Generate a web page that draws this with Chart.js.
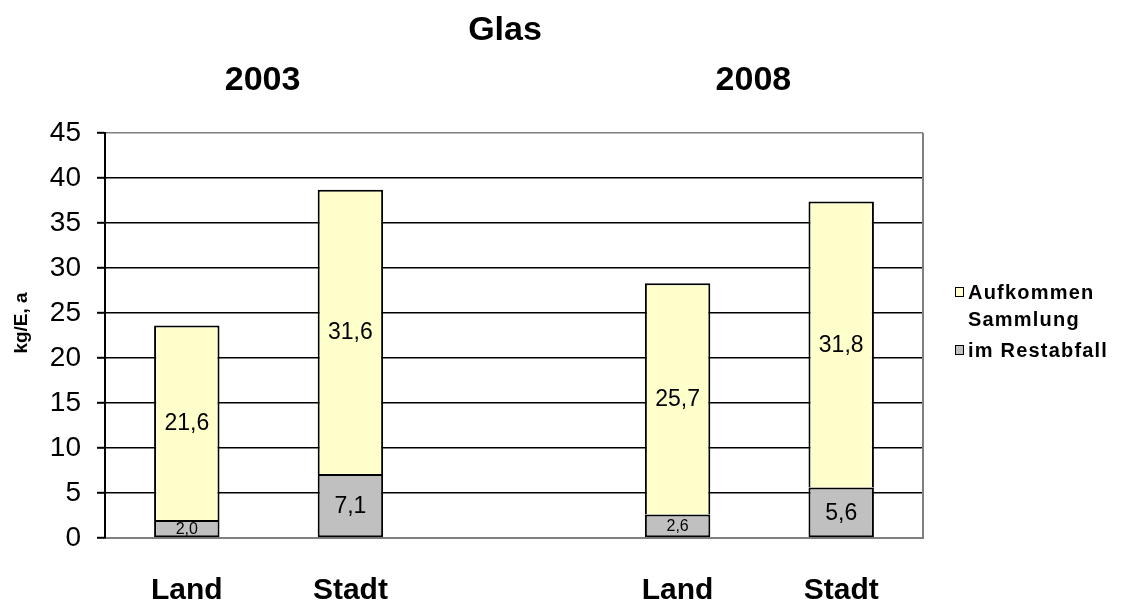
<!DOCTYPE html>
<html>
<head>
<meta charset="utf-8">
<title>Glas</title>
<script src="https://cdn.jsdelivr.net/npm/chart.js@4.4.1/dist/chart.umd.min.js"></script>
<style>
  html, body { margin: 0; padding: 0; background: #fff; }
  #wrap { position: relative; width: 1121px; height: 603px; }
  #legend { position: absolute; left: 955px; top: 279px; font: bold 20px 'Liberation Sans', Arial, sans-serif; letter-spacing: 1.2px; color: #000; }
  .item { display: flex; align-items: flex-start; margin-bottom: 4px; }
  .box { width: 7px; height: 8px; border: 1.5px solid #000; margin: 8px 4px 0 0; flex: none; }
  .txt { width: 150px; line-height: 27px; }
</style>
</head>
<body>
<div id="wrap">
  <canvas id="chartGlas" width="1121" height="603"></canvas>
  <div id="legend"></div>
</div>
<script>
// Glas: Land/Stadt, 2003 und 2008, kg je Einwohner und Jahr
const titel = 'Glas';
const jahre = ['2003', '2008'];
const kategorien = ['Land', 'Stadt', '', 'Land', 'Stadt'];
const restabfall = [2.0, 7.1, null, 2.6, 5.6];
const sammlung = [21.6, 31.6, null, 25.7, 31.8];
const yMax = 45;
const yStep = 5;

const schrift = 'Liberation Sans';
const fmt = v => v.toFixed(1).replace('.', ',');

const beschriftung = {
  id: 'beschriftung',
  beforeDatasetsDraw(chart) {
    const { ctx, chartArea } = chart;
    ctx.save();
    ctx.strokeStyle = '#808080';
    ctx.lineWidth = 2;
    ctx.beginPath();
    ctx.moveTo(chartArea.right, chartArea.top);
    ctx.lineTo(chartArea.right, chartArea.bottom);
    ctx.stroke();
    ctx.restore();
  },
  afterDatasetsDraw(chart) {
    const { ctx } = chart;
    ctx.save();
    ctx.fillStyle = '#000';
    ctx.textAlign = 'center';
    ctx.textBaseline = 'middle';
    chart.data.datasets.forEach((ds, i) => {
      chart.getDatasetMeta(i).data.forEach((bar, j) => {
        const v = ds.data[j];
        if (v == null) return;
        ctx.font = (v < 3 ? '16px ' : '23px ') + schrift;
        ctx.fillText(fmt(v), bar.x, (bar.y + bar.base) / 2 + 1);
      });
    });
    ctx.restore();
  },
  afterDraw(chart) {
    const { ctx } = chart;
    const x = chart.scales.x;
    ctx.save();
    ctx.fillStyle = '#000';
    ctx.textAlign = 'center';
    ctx.textBaseline = 'middle';
    ctx.font = 'bold 34px ' + schrift;
    ctx.fillText(titel, 505, 31);
    jahre.forEach((j, k) => {
      const mitte = (x.getPixelForValue(k * 3) + x.getPixelForValue(k * 3 + 1)) / 2;
      ctx.fillText(j, mitte - 6, 81);
    });
    // Achsentitel
    ctx.translate(22, 323);
    ctx.rotate(-Math.PI / 2);
    ctx.font = 'bold 19px ' + schrift;
    ctx.fillText('kg/E, a', 0, 0);
    ctx.restore();
  }
};

const chart = new Chart(document.getElementById('chartGlas'), {
  type: 'bar',
  data: {
    labels: kategorien,
    datasets: [
      {
        label: 'im Restabfall',
        data: restabfall,
        backgroundColor: '#C0C0C0',
        borderColor: '#000',
        borderWidth: 2,
        borderSkipped: false
      },
      {
        label: 'Aufkommen Sammlung',
        data: sammlung,
        backgroundColor: '#FFFFCC',
        borderColor: '#000',
        borderWidth: { top: 2, left: 2, right: 2, bottom: 0 },
        borderSkipped: false
      }
    ]
  },
  options: {
    responsive: false,
    animation: false,
    layout: { padding: { top: 133, right: 198, left: 0, bottom: 0 } },
    datasets: { bar: { barPercentage: 0.4, categoryPercentage: 1 } },
    plugins: {
      legend: { display: false },
      title: { display: false },
      tooltip: { enabled: false }
    },
    scales: {
      x: {
        stacked: true,
        grid: { display: false },
        border: { color: '#808080', width: 2 },
        ticks: { color: '#000', font: { family: schrift, size: 30, weight: 'bold' }, padding: 27 },
        afterFit(s) { s.height = 65; }
      },
      y: {
        stacked: true,
        min: 0,
        max: yMax,
        ticks: { stepSize: yStep, color: '#000', font: { family: schrift, size: 28 }, padding: 16 },
        grid: {
          color: c => (c.tick && (c.tick.value === 0 || c.tick.value === yMax)) ? '#808080' : '#000',
          lineWidth: 1.6,
          tickLength: 8,
          tickColor: '#000',
          tickWidth: 2
        },
        border: { color: '#000', width: 2 },
        afterFit(s) { s.width = 105; }
      }
    }
  },
  plugins: [beschriftung]
});

// Legende: obere Reihe zuerst, wie im Stapel
const legende = document.getElementById('legend');
chart.data.datasets.slice().reverse().forEach(ds => {
  const item = document.createElement('div');
  item.className = 'item';
  const box = document.createElement('span');
  box.className = 'box';
  box.style.background = ds.backgroundColor;
  const txt = document.createElement('span');
  txt.className = 'txt';
  txt.textContent = ds.label;
  item.appendChild(box);
  item.appendChild(txt);
  legende.appendChild(item);
});
</script>
</body>
</html>
